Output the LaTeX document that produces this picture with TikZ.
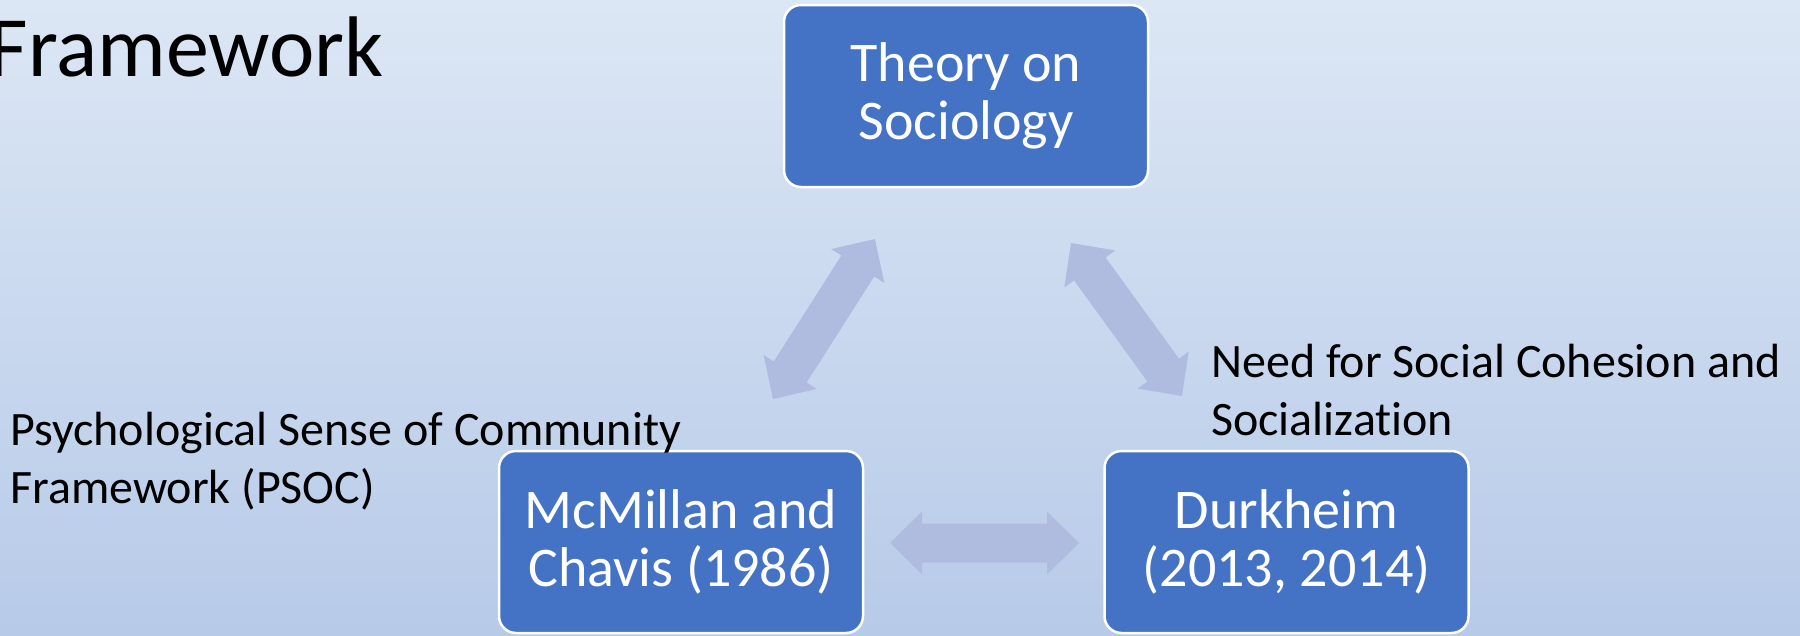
\documentclass[tikz,border=0pt]{standalone}
\usepackage{fontspec}
\setmainfont{Carlito}[Ligatures=NoCommon]
\usetikzlibrary{calc}
\definecolor{bgtop}{HTML}{DCE7F5}
\definecolor{bgbot}{HTML}{B7CAE8}
\definecolor{boxblue}{HTML}{4472C4}
\definecolor{arrowfill}{HTML}{AFBCDF}
\tikzset{
  box/.style={draw=white, line width=2.5pt, fill=boxblue, rounded corners=17pt,
    minimum width=364pt, minimum height=182pt, inner sep=0pt, text=white,
    align=center, font=\fontsize{56}{58}\selectfont},
  lbl/.style={anchor=base west, align=left, inner sep=0pt, text=black,
    font=\fontsize{48}{57.5}\selectfont},
  titletext/.style={anchor=base east, inner sep=0pt, text=black,
    font=\fontsize{86}{90}\selectfont},
  arrowshape/.style={fill=arrowfill, draw=none},
}
% double arrow between two named points: head length 32, half head 31.5, half shaft 19.5
\newcommand{\dblarr}[2]{%
  \path[arrowshape] (#1)
    -- ($(#1)!32pt!(#2)!31.5pt!90:(#2)$)
    -- ($(#1)!32pt!(#2)!19.5pt!90:(#2)$)
    -- ($(#2)!32pt!(#1)!19.5pt!-90:(#1)$)
    -- ($(#2)!32pt!(#1)!31.5pt!-90:(#1)$)
    -- (#2)
    -- ($(#2)!32pt!(#1)!31.5pt!90:(#1)$)
    -- ($(#2)!32pt!(#1)!19.5pt!90:(#1)$)
    -- ($(#1)!32pt!(#2)!19.5pt!-90:(#2)$)
    -- ($(#1)!32pt!(#2)!31.5pt!-90:(#2)$)
    -- cycle;}
\begin{document}
\begin{tikzpicture}[x=1pt, y=-1pt]
  \useasboundingbox (0,0) rectangle (1800,635);
  \shade[top color=bgtop, bottom color=bgbot] (0,0) rectangle (1800,635);

  % title
  \node[titletext] (title) at (384,76) {Framework};

  % boxes
  \node[box] (theory) at (966,96) {Theory on\\Sociology};
  \node[box] (mcm) at (681,542) {McMillan and\\Chavis (1986)};
  \node[box] (durk) at (1286.5,542) {Durkheim\\(2013, 2014)};

  % labels (base anchor = baseline of the last line)
  \node[lbl] (psoc) at (10,503) {Psychological Sense of Community\\Framework (PSOC)};
  \node[lbl] (need) at (1211,435) {Need for Social Cohesion and\\Socialization};

  % arrow tips
  \coordinate (lt) at (875,239);
  \coordinate (lb) at (773,399);
  \coordinate (rt) at (1071,243);
  \coordinate (rb) at (1182,396);
  \coordinate (hl) at (890,543);
  \coordinate (hr) at (1079,543);

  \dblarr{lb}{lt}
  \dblarr{rt}{rb}
  \dblarr{hl}{hr}
\end{tikzpicture}
\end{document}
